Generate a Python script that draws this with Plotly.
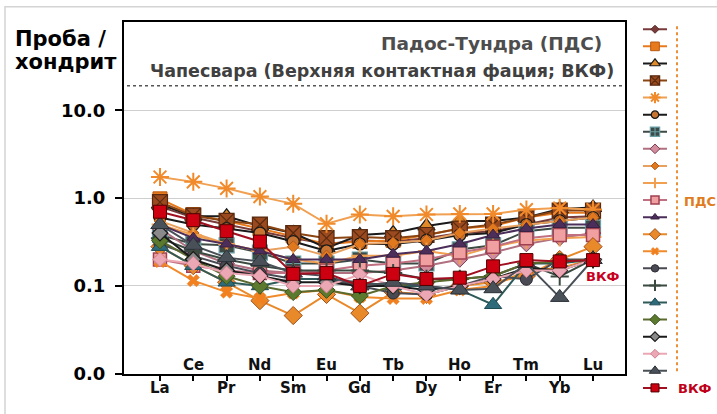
import math
import plotly.graph_objects as go

# Chondrite-normalised REE patterns
elements = ["La", "Ce", "Pr", "Nd", "Sm", "Eu", "Gd", "Tb", "Dy", "Ho", "Er", "Tm", "Yb", "Lu"]

# Pados-Tundra (ПДС) samples
pds_01 = [0.80, 0.60, 0.50, 0.42, 0.35, 0.30, 0.33, 0.32, 0.35, 0.40, 0.42, 0.50, 0.60, 0.62]
pds_02 = [0.98, 0.65, 0.55, 0.45, 0.37, 0.30, 0.32, 0.33, 0.38, 0.45, 0.48, 0.60, 0.68, 0.68]
pds_03 = [0.85, 0.62, 0.62, 0.48, 0.40, 0.27, 0.38, 0.40, 0.48, 0.55, 0.55, 0.60, 0.75, 0.78]
pds_04 = [0.90, 0.63, 0.55, 0.50, 0.40, 0.35, 0.36, 0.35, 0.38, 0.45, 0.50, 0.60, 0.72, 0.72]
pds_05 = [1.74, 1.53, 1.29, 1.04, 0.86, 0.51, 0.65, 0.62, 0.65, 0.66, 0.66, 0.74, 0.77, 0.74]
pds_06 = [0.60, 0.50, 0.45, 0.40, 0.32, 0.25, 0.30, 0.30, 0.33, 0.38, 0.40, 0.50, 0.55, 0.60]
pds_07 = [0.38, 0.30, 0.29, 0.24, 0.18, 0.18, 0.20, 0.18, 0.18, 0.26, 0.29, 0.42, 0.46, 0.46]
pds_08 = [0.45, 0.25, 0.18, 0.15, 0.14, 0.14, 0.14, 0.15, 0.17, 0.20, 0.24, 0.30, 0.35, 0.40]
pds_09 = [0.55, 0.40, 0.30, 0.25, 0.28, 0.22, 0.30, 0.31, 0.33, 0.40, 0.45, 0.50, 0.55, 0.60]
pds_10 = [0.50, 0.38, 0.30, 0.25, 0.20, 0.18, 0.22, 0.22, 0.25, 0.22, 0.28, 0.33, 0.35, 0.36]
pds_11 = [0.20, 0.17, 0.15, 0.14, 0.14, 0.15, 0.17, 0.18, 0.20, 0.24, 0.28, 0.35, 0.38, 0.38]
pds_12 = [0.50, 0.35, 0.30, 0.25, 0.20, 0.20, 0.20, 0.23, 0.25, 0.30, 0.38, 0.45, 0.50, 0.50]
pds_13 = [0.28, 0.17, 0.11, 0.068, 0.046, 0.08, 0.049, 0.085, 0.08, 0.10, 0.11, 0.13, 0.20, 0.28]
pds_14 = [0.19, 0.115, 0.085, 0.072, 0.083, 0.09, 0.075, 0.072, 0.072, 0.09, 0.10, 0.15, 0.16, 0.20]
pds_15 = [0.30, 0.22, 0.17, 0.14, 0.12, 0.12, 0.10, 0.083, 0.08, 0.10, 0.13, 0.119, 0.20, 0.20]
pds_16 = [0.35, 0.25, 0.20, 0.17, 0.15, 0.15, 0.15, 0.14, 0.12, 0.12, 0.13, 0.18, 0.128, 0.20]
pds_17 = [0.28, 0.17, 0.11, 0.10, 0.12, 0.12, 0.11, 0.10, 0.10, 0.09, 0.061, 0.18, 0.18, 0.20]
pds_18 = [0.33, 0.20, 0.129, 0.10, 0.085, 0.09, 0.077, 0.10, 0.11, 0.12, 0.13, 0.18, 0.19, 0.20]
pds_19 = [0.40, 0.20, 0.15, 0.13, 0.11, 0.11, 0.10, 0.10, 0.09, 0.10, 0.12, 0.16, 0.15, 0.20]
pds_20 = [0.20, 0.18, 0.14, 0.13, 0.10, 0.10, 0.135, 0.10, 0.08, 0.10, 0.12, 0.15, 0.15, 0.20]
pds_21 = [0.50, 0.29, 0.21, 0.19, 0.14, 0.13, 0.10, 0.11, 0.10, 0.09, 0.093, 0.18, 0.074, 0.20]

# Chapesvara, upper contact facies (ВКФ)
vkf = [0.70, 0.56, 0.42, 0.32, 0.137, 0.14, 0.10, 0.137, 0.12, 0.124, 0.167, 0.197, 0.19, 0.197]

pds_series = [pds_01, pds_02, pds_03, pds_04, pds_05, pds_06, pds_07, pds_08, pds_09, pds_10,
              pds_11, pds_12, pds_13, pds_14, pds_15, pds_16, pds_17, pds_18, pds_19, pds_20, pds_21]

y_tick_vals = [0.01, 0.1, 1, 10]
y_tick_text = ["0.0", "0.1", "1.0", "10.0"]

# (symbol, fill, outline, line colour, size, outline width)
pds_styles = [
    ("diamond", "#7A3B3B", "#5A2525", "#7A3B3B", 10, 1),
    ("square", "#E87A1E", "#B85A10", "#E87A1E", 14, 1),
    ("triangle-up", "#E08A2A", "#1A1A1A", "#1A1A1A", 15, 1.2),
    ("square-x", "#9A4A1E", "#5A2A10", "#8B4513", 15, 1.2),
    ("asterisk-open", "#F08A2A", "#F08A2A", "#F0A050", 15, 2),
    ("circle", "#C87533", "#1A1A1A", "#1A1A1A", 12, 1.2),
    ("square-cross", "#3E4A44", "#6A9FA6", "#3E4A44", 15, 1.2),
    ("diamond", "#D38C9E", "#7A4050", "#B07080", 12, 1),
    ("diamond", "#E0781E", "#B0581A", "#E8A060", 9, 1),
    ("cross-thin-open", "#F0A050", "#F0A050", "#F0A050", 12, 2),
    ("square", "#F0A0A0", "#A04050", "#C07080", 13, 1.5),
    ("triangle-up", "#4B2E5A", "#3A2040", "#4B2E5A", 12, 1),
    ("diamond", "#E8892A", "#A0501A", "#E8892A", 14, 1),
    ("x", "#F08020", "#F08020", "#F08A2A", 11, 0.5),
    ("circle", "#4A4A55", "#2A2A30", "#4A4A55", 12, 1),
    ("cross-thin-open", "#3A4A40", "#3A4A40", "#3A4A40", 13, 2),
    ("triangle-up", "#2E6B7A", "#1E4A55", "#2E5A5A", 15, 1),
    ("diamond", "#5B7A2E", "#3A5020", "#5B6A2E", 13, 1),
    ("diamond", "#8A8A8A", "#1A1A1A", "#1A1A1A", 12, 1.2),
    ("diamond", "#EBA8B4", "#D08090", "#EBA8B4", 11, 1),
    ("triangle-up", "#4A5058", "#2A3038", "#4A5058", 16, 1),
]
vkf_style = ("square", "#CC0010", "#500000", "#A01020", 13, 1)

W, H = 717, 414
FONT = "DejaVu Sans"


def px(x):
    return x / W


def py(y):
    return 1 - y / H


fig = go.Figure()
xs = list(range(len(elements)))

for vals, (sym, fill, outl, lcol, size, lw) in zip(pds_series + [vkf], pds_styles + [vkf_style]):
    fig.add_trace(go.Scatter(
        x=xs, y=vals, mode="lines+markers", showlegend=False,
        line=dict(color=lcol, width=2),
        marker=dict(symbol=sym, color=fill, size=size, line=dict(color=outl, width=lw)),
        xaxis="x", yaxis="y",
    ))

# Hand-drawn key on the right
all_styles = pds_styles + [vkf_style]
for i, (sym, fill, outl, lcol, size, lw) in enumerate(all_styles):
    fig.add_trace(go.Scatter(x=[-1, 1], y=[i, i], mode="lines", showlegend=False,
                             line=dict(color=lcol, width=2), xaxis="x2", yaxis="y2",
                             hoverinfo="skip"))
    fig.add_trace(go.Scatter(x=[0], y=[i], mode="markers", showlegend=False,
                             marker=dict(symbol=sym, color=fill, size=max(6, size * 0.62),
                                         line=dict(color=outl, width=lw)),
                             xaxis="x2", yaxis="y2", hoverinfo="skip"))

n_key = len(all_styles)
row_h = 17.5
key_top = 30 - row_h / 2

annotations = []
# staggered element labels
for i, el in enumerate(elements):
    annotations.append(dict(
        x=i, xref="x", y=py(398) if i % 2 == 0 else py(374), yref="paper",
        text=el, showarrow=False, xanchor="center", yanchor="middle",
        font=dict(family=FONT, size=15, color="#111111", weight="bold"),
    ))

annotations += [
    dict(x=px(13), y=py(40), xref="paper", yref="paper", text="Проба /", showarrow=False,
         xanchor="left", yanchor="middle", font=dict(family=FONT, size=21, color="#000", weight="bold")),
    dict(x=px(13), y=py(64), xref="paper", yref="paper", text="хондрит", showarrow=False,
         xanchor="left", yanchor="middle", font=dict(family=FONT, size=21, color="#000", weight="bold")),
    dict(x=px(604), y=py(45), xref="paper", yref="paper", text="Падос-Тундра (ПДС)", showarrow=False,
         xanchor="right", yanchor="middle", font=dict(family=FONT, size=18.5, color="#4D4D4D", weight="bold")),
    dict(x=px(616), y=py(73), xref="paper", yref="paper",
         text="Чапесвара (Верхняя контактная фация; ВКФ)", showarrow=False,
         xanchor="right", yanchor="middle", font=dict(family=FONT, size=17.5, color="#404040", weight="bold")),
    dict(x=len(elements) - 1, y=math.log10(vkf[-1]), xref="x", yref="y", yshift=-16, xshift=10,
         text="ВКФ", showarrow=False, xanchor="center", yanchor="middle",
         font=dict(family=FONT, size=13, color="#C8001E", weight="bold")),
    dict(x=px(682), y=py(206), xref="paper", yref="paper", text="ПДС", showarrow=False,
         xanchor="left", yanchor="middle", font=dict(family=FONT, size=13, color="#E07B20", weight="bold")),
    dict(x=px(676), y=py(398), xref="paper", yref="paper", text="ВКФ", showarrow=False,
         xanchor="left", yanchor="middle", font=dict(family=FONT, size=13, color="#C00018", weight="bold")),
]

shapes = [
    # light outer frame
    dict(type="rect", xref="paper", yref="paper", x0=px(5), x1=1.05, y0=-0.05, y1=py(7),
         line=dict(color="#D4D4D4", width=1.5), layer="below"),
    # dotted separator under the headings
    dict(type="line", xref="paper", yref="paper", x0=px(127), x1=px(624), y0=py(88), y1=py(88),
         line=dict(color="#555555", width=1.5, dash="dot")),
    # orange bracket of the ПДС group in the key
    dict(type="line", xref="paper", yref="paper", x0=px(677), x1=px(677), y0=py(27), y1=py(383),
         line=dict(color="#E8913A", width=2, dash="dot")),
]

fig.update_layout(
    width=W, height=H,
    margin=dict(l=0, r=0, t=0, b=0),
    paper_bgcolor="white", plot_bgcolor="white",
    showlegend=False,
    xaxis=dict(domain=[px(124), px(625)], range=[-1.08, 13.96], tickvals=xs, showticklabels=False,
               ticks="outside", ticklen=5, tickwidth=2, tickcolor="#000",
               showgrid=False, zeroline=False, showline=True, linecolor="#000", linewidth=2,
               mirror=True),
    yaxis=dict(domain=[py(383), py(23)], type="log", range=[-2, 2],
               tickvals=y_tick_vals, ticktext=y_tick_text,
               ticks="outside", ticklen=7, tickwidth=2, tickcolor="#000",
               tickfont=dict(family=FONT, size=18, color="#000", weight="bold"),
               ticklabelstandoff=6,
               showgrid=True, gridcolor="#CFCFCF", gridwidth=1, zeroline=False,
               showline=True, linecolor="#000", linewidth=2, mirror=True),
    xaxis2=dict(domain=[px(643), px(667)], range=[-1, 1], visible=False, fixedrange=True),
    yaxis2=dict(domain=[py(key_top + n_key * row_h), py(key_top)],
                range=[n_key - 0.5, -0.5], visible=False, fixedrange=True),
    annotations=annotations,
    shapes=shapes,
)

fig.write_html("out.html")
